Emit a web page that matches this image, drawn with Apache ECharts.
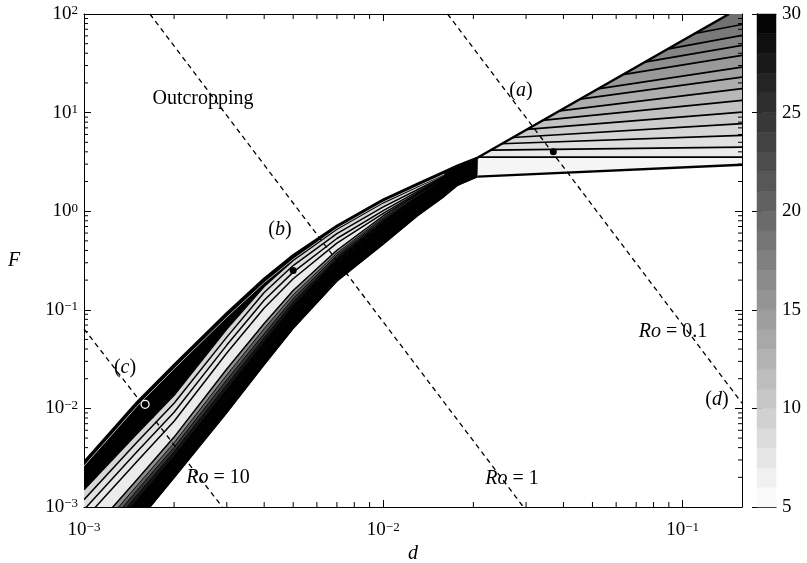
<!DOCTYPE html>
<html>
<head>
<meta charset="utf-8">
<script src="https://cdn.jsdelivr.net/npm/echarts@6/dist/echarts.min.js"></script>
<style>
  html, body { margin: 0; padding: 0; background: #fff; }
  #chart { width: 807px; height: 563px; }
</style>
</head>
<body>
<div id="chart"></div>
<script>
// ---------- axis ranges ----------
const D_MIN = 0.001, D_MAX = 0.158;
const F_MIN = 0.001, F_MAX = 100;

// ---------- lower branch: contour curves tabulated at these d values ----------
const branchD = [0.001, 0.0015, 0.002, 0.003, 0.004, 0.005, 0.007, 0.01, 0.013, 0.016, 0.0177, 0.0207];
// log10(F) of each curve, from the outer (upper) edge down to the lower edge
const branchUpper = [-2.544, -1.941, -1.558, -1.034, -0.685, -0.447, -0.148, 0.119, 0.278, 0.402, 0.463, 0.544];
const branchC1  = [-2.824, -2.260, -1.867, -1.196, -0.764, -0.499, -0.182, 0.086, 0.248, 0.373, 0.448, 0.544];
const branchC2  = [-2.926, -2.345, -1.948, -1.277, -0.825, -0.551, -0.227, 0.044, 0.218, 0.358, 0.445, 0.544];
const branchC3  = [-3.027, -2.443, -2.039, -1.358, -0.903, -0.618, -0.277, 0.006, 0.199, 0.349, 0.442, 0.544];
const branchC4  = [-3.129, -2.541, -2.131, -1.438, -0.982, -0.685, -0.323, -0.022, 0.184, 0.344, 0.440, 0.544];
const branchC5  = [-3.333, -2.725, -2.291, -1.600, -1.139, -0.804, -0.396, -0.046, 0.173, 0.338, 0.439, 0.544];
const branchC6  = [-3.409, -2.786, -2.349, -1.661, -1.191, -0.849, -0.424, -0.064, 0.162, 0.332, 0.438, 0.544];
const branchC7  = [-3.473, -2.835, -2.395, -1.711, -1.244, -0.886, -0.446, -0.078, 0.151, 0.326, 0.436, 0.544];
const branchC8  = [-3.523, -2.884, -2.440, -1.762, -1.287, -0.923, -0.469, -0.093, 0.143, 0.320, 0.435, 0.544];
const branchC9  = [-3.574, -2.933, -2.486, -1.812, -1.331, -0.960, -0.491, -0.107, 0.136, 0.314, 0.433, 0.544];
const branchC10 = [-3.625, -2.982, -2.532, -1.863, -1.375, -0.998, -0.514, -0.121, 0.128, 0.309, 0.432, 0.544];
const branchC11 = [-3.676, -3.031, -2.578, -1.903, -1.418, -1.035, -0.536, -0.135, 0.117, 0.303, 0.430, 0.544];
const branchLower = [-3.816, -3.166, -2.704, -2.045, -1.558, -1.191, -0.711, -0.335, -0.050, 0.150, 0.260, 0.350];
// thin light contour running just inside the outer edge
const branchSheen = [-2.584, -1.981, -1.598, -1.074, -0.725, -0.487, -0.173, 0.094, 0.253, 0.377];
// value filled between consecutive curves
const branchLevels = [30, 9, 8, 7.5, 7, 16, 21, 25, 28, 30, 30, 30];

// ---------- upper branch (wedge): isolines as [d, F] end points ----------
const wedgeBase = [[0.0207, 2.24], [0.158, 2.96]];
const wedgeIsolines = [
  [[0.0208, 3.54], [0.158, 3.54]],
  [[0.0229, 4.17], [0.158, 4.47]],
  [[0.0248, 4.83], [0.158, 5.87]],
  [[0.0271, 5.59], [0.158, 7.72]],
  [[0.0302, 6.76], [0.158, 10.1]],
  [[0.0340, 8.34], [0.158, 13.3]],
  [[0.0389, 10.4], [0.158, 17.5]],
  [[0.0454, 13.7], [0.158, 22.9]],
  [[0.0521, 17.4], [0.158, 28.9]],
  [[0.0631, 24.3], [0.158, 38.0]],
  [[0.0746, 32.5], [0.158, 48.0]],
  [[0.0889, 44.1], [0.158, 60.6]],
  [[0.109, 63.0], [0.158, 78.3]]
];
const wedgeCap = [[0.143, 100], [0.158, 100]];
const wedgeLevels = [6, 7, 8, 9, 10, 11, 12, 13, 14, 15, 16, 17, 18, 19];

// ---------- Rossby-number lines ----------
const roLines = [
  { name: 'Ro = 10',  pts: [[0.001, 0.064], [0.0029, 0.001]] },
  { name: 'Ro = 1',   pts: [[0.00166, 100], [0.0294, 0.001]] },
  { name: 'Ro = 0.1', pts: [[0.0164, 100], [0.158, 0.0113]] }
];

// ---------- marked cases ----------
const caseFilled = [[0.037, 4.0], [0.005, 0.25]];   // (a), (b)
const caseRing = [[0.0016, 0.011]];                  // (c)

// ---------- ticks ----------
const mantissas = [2, 3, 4, 5, 6, 7, 8, 9];
const xDecades = [0.001, 0.01];
const yDecades = [0.001, 0.01, 0.1, 1, 10];
const colorbarSteps = [5, 6, 7, 8, 9, 10, 11, 12, 13, 14, 15, 16, 17, 18, 19, 20, 21, 22, 23, 24, 25, 26, 27, 28, 29];

// ---------- helpers ----------
const serif = '"Liberation Serif", "DejaVu Serif", serif';

function shade(level) {
  const t = Math.min(1, Math.max(0, (level - 5) / 25));
  const g = Math.round(255 * (1 - t));
  return 'rgb(' + g + ',' + g + ',' + g + ')';
}

function branchPts(logs) {
  return logs.map((v, i) => [branchD[i], Math.pow(10, v)]);
}

const xMinor = [];
xDecades.forEach(dec => mantissas.forEach(m => xMinor.push(+(m * dec).toPrecision(3))));
const yMinor = [];
yDecades.forEach(dec => mantissas.forEach(m => yMinor.push(+(m * dec).toPrecision(3))));

// filled regions
const fills = [];
const branchCurves = [branchUpper, branchC1, branchC2, branchC3, branchC4, branchC5, branchC6,
  branchC7, branchC8, branchC9, branchC10, branchC11, branchLower];
for (let k = 0; k < branchCurves.length - 1; k++) {
  const top = branchPts(branchCurves[k]);
  const bottom = branchPts(branchCurves[k + 1]).reverse();
  fills.push({ pts: top.concat(bottom), level: branchLevels[k] });
}
const wedgeAll = [wedgeBase].concat(wedgeIsolines, [wedgeCap]);
for (let j = 0; j < wedgeAll.length - 1; j++) {
  const a = wedgeAll[j], b = wedgeAll[j + 1];
  fills.push({ pts: [a[0], a[1], b[1], b[0]], level: wedgeLevels[j] });
}

// contour strokes
const strokes = [];
[branchC1, branchC2, branchC3, branchC4, branchC5].forEach(c =>
  strokes.push({ pts: branchPts(c), color: '#000', width: 1.5 }));
[branchC6, branchC7, branchC8, branchC9, branchC10, branchC11].forEach(c =>
  strokes.push({ pts: branchPts(c), color: '#000', width: 0.9 }));
strokes.push({ pts: branchPts(branchSheen), color: '#b4b4b4', width: 1 });
wedgeIsolines.forEach(l => strokes.push({ pts: l, color: '#000', width: 1.7 }));
strokes.push({ pts: branchPts(branchLower), color: '#000', width: 1.2 });
strokes.push({ pts: wedgeBase, color: '#000', width: 2.4 });
strokes.push({ pts: branchPts(branchUpper).concat([wedgeCap[0]]), color: '#000', width: 2.4 });

function clipOf(params) {
  const cs = params.coordSys;
  return { type: 'rect', shape: { x: cs.x, y: cs.y, width: cs.width, height: cs.height } };
}

function powerLabel(v) {
  const e = Math.log10(v);
  const n = Math.round(e);
  if (Math.abs(e - n) > 1e-6) return '';
  return '{b|10}{s|' + (n < 0 ? '\u2212' + (-n) : String(n)) + '}';
}
const powerRich = {
  b: { fontFamily: serif, fontSize: 19, lineHeight: 19, verticalAlign: 'bottom', color: '#000' },
  s: { fontFamily: serif, fontSize: 13, lineHeight: 13, verticalAlign: 'top', padding: [0, 0, 8, 0], color: '#000' }
};

const axisLineStyle = { show: true, lineStyle: { color: '#000', width: 1 } };
const tickInside = len => ({ show: true, inside: true, length: len, lineStyle: { color: '#000', width: 1 } });

// text annotations
function note(x, y, text, size) {
  return {
    type: 'text', x: x, y: y, z: 100,
    style: {
      text: text,
      align: 'center', verticalAlign: 'middle', textAlign: 'center', textVerticalAlign: 'middle',
      fontFamily: serif, fontSize: size || 20, fill: '#000',
      rich: {
        n: { fontFamily: serif, fontSize: size || 20, fill: '#000' },
        i: { fontFamily: serif, fontSize: size || 20, fontStyle: 'italic', fill: '#000' }
      }
    }
  };
}

const chart = echarts.init(document.getElementById('chart'), null, { renderer: 'canvas' });

chart.setOption({
  animation: false,
  backgroundColor: '#fff',
  grid: [
    { left: 84, top: 14, width: 658, height: 493, outerBoundsMode: 'none', containLabel: false },
    { left: 757, top: 14, width: 19, height: 493, outerBoundsMode: 'none', containLabel: false }
  ],
  xAxis: [
    { gridIndex: 0, type: 'log', logBase: 10, min: D_MIN, max: D_MAX, position: 'bottom',
      axisLine: axisLineStyle, axisTick: tickInside(7), splitLine: { show: false },
      axisLabel: { formatter: powerLabel, rich: powerRich, margin: 14, showMaxLabel: false } },
    { gridIndex: 0, type: 'log', logBase: 10, min: D_MIN, max: D_MAX, position: 'top',
      axisLine: axisLineStyle, axisTick: tickInside(7), splitLine: { show: false },
      axisLabel: { show: false } },
    { gridIndex: 1, type: 'value', min: 0, max: 1, position: 'bottom',
      axisLine: axisLineStyle, axisTick: { show: false }, axisLabel: { show: false }, splitLine: { show: false } },
    { gridIndex: 1, type: 'value', min: 0, max: 1, position: 'top',
      axisLine: axisLineStyle, axisTick: { show: false }, axisLabel: { show: false }, splitLine: { show: false } }
  ],
  yAxis: [
    { gridIndex: 0, type: 'log', logBase: 10, min: F_MIN, max: F_MAX, position: 'left',
      axisLine: axisLineStyle, axisTick: tickInside(7), splitLine: { show: false },
      axisLabel: { formatter: powerLabel, rich: powerRich, margin: 6, align: 'right' } },
    { gridIndex: 0, type: 'log', logBase: 10, min: F_MIN, max: F_MAX, position: 'right',
      axisLine: axisLineStyle, axisTick: tickInside(7), splitLine: { show: false },
      axisLabel: { show: false } },
    { gridIndex: 1, type: 'value', min: 5, max: 30, interval: 5, position: 'right',
      axisLine: axisLineStyle, axisTick: tickInside(5), splitLine: { show: false },
      axisLabel: { fontFamily: serif, fontSize: 19, color: '#000', margin: 6 } },
    { gridIndex: 1, type: 'value', min: 5, max: 30, interval: 5, position: 'left',
      axisLine: axisLineStyle, axisTick: tickInside(5), splitLine: { show: false },
      axisLabel: { show: false } }
  ],
  series: [
    {
      type: 'custom', name: 'contour fill', xAxisIndex: 0, yAxisIndex: 0, clip: true, z: 1,
      data: fills.map(f => f.pts[0]),
      renderItem: (params, api) => {
        const f = fills[params.dataIndex];
        const c = shade(f.level);
        return {
          type: 'polygon',
          shape: { points: f.pts.map(p => api.coord(p)) },
          style: { fill: c, stroke: c, lineWidth: 0.6 },
          clipPath: clipOf(params)
        };
      }
    },
    {
      type: 'custom', name: 'contour lines', xAxisIndex: 0, yAxisIndex: 0, clip: true, z: 2,
      data: strokes.map(s => s.pts[0]),
      renderItem: (params, api) => {
        const s = strokes[params.dataIndex];
        return {
          type: 'polyline',
          shape: { points: s.pts.map(p => api.coord(p)) },
          style: { stroke: s.color, lineWidth: s.width, fill: null, lineJoin: 'round' },
          clipPath: clipOf(params)
        };
      }
    },
    ...roLines.map(r => ({
      type: 'line', name: r.name, xAxisIndex: 0, yAxisIndex: 0, z: 3,
      data: r.pts, symbol: 'none', silent: true,
      lineStyle: { color: '#000', width: 1.3, type: [5, 4] }
    })),
    {
      type: 'scatter', name: 'cases', xAxisIndex: 0, yAxisIndex: 0, z: 4,
      data: caseFilled, symbol: 'circle', symbolSize: 7,
      itemStyle: { color: '#000', borderWidth: 0, opacity: 1 }
    },
    {
      type: 'scatter', name: 'case c', xAxisIndex: 0, yAxisIndex: 0, z: 4,
      data: caseRing, symbol: 'circle', symbolSize: 8,
      itemStyle: { color: '#000', borderColor: '#fff', borderWidth: 1.3, opacity: 1 }
    },
    {
      type: 'custom', name: 'x minor ticks', xAxisIndex: 0, yAxisIndex: 0, z: 5, silent: true,
      data: xMinor.map(v => [v, F_MIN]),
      renderItem: (params, api) => {
        const v = xMinor[params.dataIndex];
        const b = api.coord([v, F_MIN]), t = api.coord([v, F_MAX]);
        return { type: 'group', children: [
          { type: 'line', shape: { x1: b[0], y1: b[1], x2: b[0], y2: b[1] - 5 }, style: { stroke: '#000', lineWidth: 1 } },
          { type: 'line', shape: { x1: t[0], y1: t[1], x2: t[0], y2: t[1] + 5 }, style: { stroke: '#000', lineWidth: 1 } }
        ] };
      }
    },
    {
      type: 'custom', name: 'y minor ticks', xAxisIndex: 0, yAxisIndex: 0, z: 5, silent: true,
      data: yMinor.map(v => [D_MIN, v]),
      renderItem: (params, api) => {
        const v = yMinor[params.dataIndex];
        const l = api.coord([D_MIN, v]), r = api.coord([D_MAX, v]);
        return { type: 'group', children: [
          { type: 'line', shape: { x1: l[0], y1: l[1], x2: l[0] + 4, y2: l[1] }, style: { stroke: '#000', lineWidth: 1 } },
          { type: 'line', shape: { x1: r[0], y1: r[1], x2: r[0] - 4, y2: r[1] }, style: { stroke: '#000', lineWidth: 1 } }
        ] };
      }
    },
    {
      type: 'custom', name: 'colour bar', xAxisIndex: 2, yAxisIndex: 2, z: 1, silent: true,
      data: colorbarSteps.map(v => [0, v]),
      renderItem: (params, api) => {
        const v = colorbarSteps[params.dataIndex];
        const p0 = api.coord([0, v + 1]), p1 = api.coord([1, v]);
        const c = shade(v + 0.5);
        return { type: 'rect', shape: { x: p0[0], y: p0[1], width: p1[0] - p0[0], height: p1[1] - p0[1] },
          style: { fill: c, stroke: c, lineWidth: 0.5 } };
      }
    }
  ],
  graphic: [
    note(203, 99, 'Outcropping'),
    note(521, 91, '{n|(}{i|a}{n|)}'),
    note(280, 230, '{n|(}{i|b}{n|)}'),
    note(125, 368, '{n|(}{i|c}{n|)}'),
    note(717, 400, '{n|(}{i|d}{n|)}'),
    note(673, 332, '{i|Ro}{n| = 0.1}'),
    note(512, 479, '{i|Ro}{n| = 1}'),
    note(218, 478, '{i|Ro}{n| = 10}'),
    note(413, 554, '{i|d}'),
    note(14, 261, '{i|F}')
  ]
});
</script>
</body>
</html>
